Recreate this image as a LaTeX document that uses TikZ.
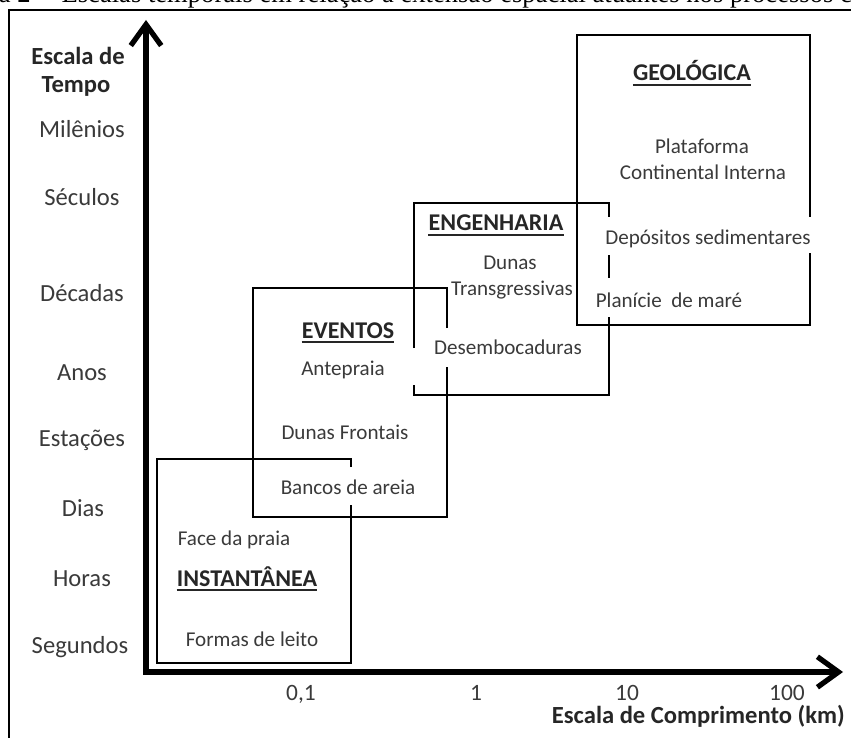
\documentclass[tikz,border=0pt]{standalone}
\usepackage{fontspec}
\setmainfont{Carlito}
\newfontfamily\capfont{Liberation Serif}
\usetikzlibrary{arrows.meta}

\definecolor{txtgray}{HTML}{3A3A3A}

\begin{document}
\begin{tikzpicture}[x=0.03cm,y=-0.03cm,
  box/.style={line width=2.3pt},
  axis/.style={line width=5pt, line join=miter,
    {Straight Barb[length=18pt,width=26pt,line width=4.5pt]}-{Straight Barb[length=18pt,width=26pt,line width=4.5pt]}},
  lbl/.style={text=txtgray, inner sep=0pt, anchor=base, font=\fontsize{18}{22}\selectfont},
  head/.style={text=black!85, inner sep=0pt, anchor=base, font=\fontsize{20.5}{24}\selectfont\bfseries},
  tlbl/.style={text=txtgray, inner sep=0pt, anchor=base, font=\fontsize{21}{25}\selectfont},
]
\useasboundingbox (0,0) rectangle (851,738);

%% caption of the figure, cut by the top edge
\node[anchor=base west, inner sep=0pt, font=\capfont\fontsize{22.7}{26}\selectfont] (cap)
  at (-59,3) {Figura 2 -- Escalas temporais em relação à extensão espacial atuantes nos processos costeiros};

%% frame
\draw[line width=1.6pt] (9,760) -- (9,10) -- (880,10);

%% the axes
\draw[axis] (146,20) -- (146,672) -- (843,672);

%% time scale
\node[tlbl, font=\fontsize{21}{25}\selectfont\bfseries, text=black!85] (esc) at (78,65) {Escala de};
\node[tlbl, font=\fontsize{21}{25}\selectfont\bfseries, text=black!85] (tempo) at (76,93) {Tempo};
\node[tlbl] (mil) at (82,138) {Milênios};
\node[tlbl] (sec) at (82,206) {Séculos};
\node[tlbl] (dec) at (82,301) {Décadas};
\node[tlbl] (anos) at (82,380) {Anos};
\node[tlbl] (est) at (82,446) {Estações};
\node[tlbl] (dias) at (83,516) {Dias};
\node[tlbl] (horas) at (82,586) {Horas};
\node[tlbl] (seg) at (80,653) {Segundos};

%% length scale
\node[tlbl, font=\fontsize{20}{24}\selectfont] (t01) at (301,700) {0,1};
\node[tlbl, font=\fontsize{20}{24}\selectfont] (t1) at (476,700) {1};
\node[tlbl, font=\fontsize{20}{24}\selectfont] (t10) at (627,700) {10};
\node[tlbl, font=\fontsize{20}{24}\selectfont] (t100) at (787,700) {100};
\node[tlbl, anchor=base east, font=\fontsize{21}{25}\selectfont\bfseries, text=black!85] (comp) at (845,723) {Escala de Comprimento (km)};

%% INSTANTANEA box
\draw[box] (351,467) -- (351,459) -- (157,459) -- (157,663) -- (351,663) -- (351,505);
%% EVENTOS box
\draw[box] (447,328) -- (447,288) -- (253,288) -- (253,517) -- (447,517) -- (447,367);
%% ENGENHARIA box
\draw[box] (414,348) -- (414,203) -- (609,203) -- (609,217);
\draw[box] (609,255) -- (609,278);
\draw[box] (609,317) -- (609,395) -- (414,395) -- (414,385);
%% GEOLOGICA box
\draw[box] (810,217) -- (810,35) -- (577,35) -- (577,325) -- (810,325) -- (810,253);

%% headings
\node[head] (geo) at (692,81) {GEOLÓGICA};
\node[head] (eng) at (496,231) {ENGENHARIA};
\node[head] (evt) at (348,338) {EVENTOS};
\node[head] (ins) at (247,586) {INSTANTÂNEA};
\foreach \n in {geo,eng,evt,ins}
  \draw[line width=1.6pt, black!85] ([yshift=-3.5pt]\n.base west) -- ([yshift=-3.5pt]\n.base east);

%% processes
\node[lbl] (plat) at (702,154) {Plataforma};
\node[lbl] (cont) at (703,180) {Continental Interna};
\node[lbl] (dep) at (708,245) {Depósitos sedimentares};
\node[lbl] (plan) at (669,307) {Planície\ \ de maré};
\node[lbl] (dun) at (510,269) {Dunas};
\node[lbl] (trans) at (512,295) {Transgressivas};
\node[lbl] (desemb) at (508,354) {Desembocaduras};
\node[lbl] (ante) at (343,375) {Antepraia};
\node[lbl] (dfront) at (345,439) {Dunas Frontais};
\node[lbl] (banc) at (348,494) {Bancos de areia};
\node[lbl] (face) at (234,545) {Face da praia};
\node[lbl] (form) at (252,646) {Formas de leito};

\end{tikzpicture}
\end{document}
